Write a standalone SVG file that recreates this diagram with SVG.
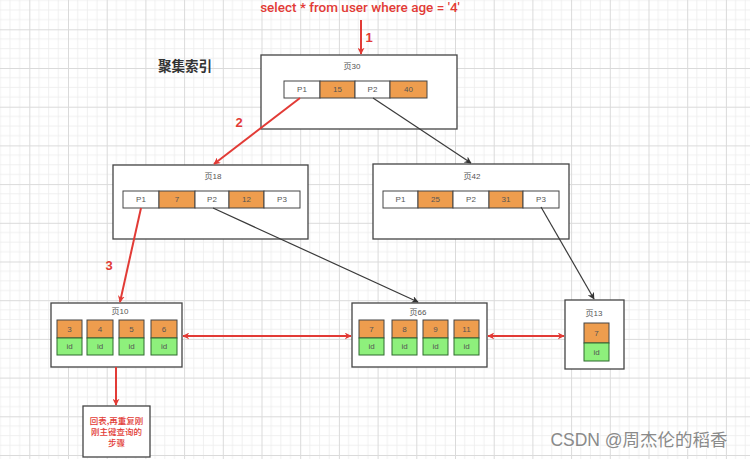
<svg xmlns="http://www.w3.org/2000/svg" width="750" height="459" viewBox="0 0 750 459">
  <defs>
    <pattern id="grid" patternUnits="userSpaceOnUse" x="29.3" y="29.3" width="38.7" height="38.7">
      <path d="M9.675 0V38.7M19.35 0V38.7M29.025 0V38.7M0 9.675H38.7M0 19.35H38.7M0 29.025H38.7" stroke="#ececec" stroke-width="0.8" fill="none"/>
      <path d="M0.5 0V38.7M0 0.5H38.7" stroke="#dadada" stroke-width="1" fill="none"/>
    </pattern>
    <marker id="arrRed" viewBox="0 0 10 10" refX="9" refY="5" markerWidth="7" markerHeight="7" orient="auto-start-reverse" markerUnits="userSpaceOnUse">
      <path d="M0 0L10 5L0 10L3 5Z" fill="#e23b36"/>
    </marker>
    <marker id="arrDark" viewBox="0 0 10 10" refX="9" refY="5" markerWidth="7" markerHeight="7" orient="auto" markerUnits="userSpaceOnUse">
      <path d="M0 0L10 5L0 10L3 5Z" fill="#333"/>
    </marker>
  </defs>
  <style>
    .page { fill: #fff; stroke: #444; stroke-width: 1.3; }
    .cell { fill: #fff; stroke: #444; stroke-width: 1; }
    .key { fill: #ee9d4e; stroke: #444; stroke-width: 1; }
    .idc { fill: #8ef07c; stroke: #2f6b2f; stroke-width: 1; }
    .t { font-family: "Liberation Sans", "Noto Sans CJK SC", sans-serif; font-size: 8px; fill: #555; text-anchor: middle; dominant-baseline: central; }
    .red { stroke: #e23b36; stroke-width: 2; fill: none; }
    .dark { stroke: #3a3a3a; stroke-width: 1.2; fill: none; }
    .num { font-family: "Liberation Sans", sans-serif; font-size: 13px; font-weight: bold; fill: #e23b36; text-anchor: middle; }
  </style>

  <rect width="750" height="459" fill="#fff"/>
  <rect width="750" height="459" fill="url(#grid)"/>

  <text x="360" y="12" font-family="Roboto, Liberation Sans, sans-serif" font-size="13.5" font-weight="500" fill="#e23b36" text-anchor="middle">select * from user where age = '4'</text>
  <text x="185" y="71" font-family="Noto Sans CJK SC, sans-serif" font-size="13.5" font-weight="bold" fill="#333" text-anchor="middle">聚集索引</text>

  <g id="page30">
    <rect class="page" x="261" y="55" width="196" height="74"/>
    <text class="t" x="352" y="66">页30</text>
    <rect class="cell" x="284" y="81" width="36" height="17"/><text class="t" x="302" y="89.5">P1</text>
    <rect class="key" x="320" y="81" width="35" height="17"/><text class="t" x="337.5" y="89.5">15</text>
    <rect class="cell" x="355" y="81" width="35" height="17"/><text class="t" x="372.5" y="89.5">P2</text>
    <rect class="key" x="390" y="81" width="37" height="17"/><text class="t" x="408.5" y="89.5">40</text>
  </g>

  <g id="page18">
    <rect class="page" x="113" y="165" width="195" height="74"/>
    <text class="t" x="213" y="176">页18</text>
    <rect class="cell" x="123" y="191" width="36" height="17"/><text class="t" x="141" y="199.5">P1</text>
    <rect class="key" x="159" y="191" width="36" height="17"/><text class="t" x="177" y="199.5">7</text>
    <rect class="cell" x="195" y="191" width="34" height="17"/><text class="t" x="212" y="199.5">P2</text>
    <rect class="key" x="229" y="191" width="35" height="17"/><text class="t" x="246.5" y="199.5">12</text>
    <rect class="cell" x="264" y="191" width="36" height="17"/><text class="t" x="282" y="199.5">P3</text>
  </g>

  <g id="page42">
    <rect class="page" x="373" y="164" width="196" height="75"/>
    <text class="t" x="472" y="176">页42</text>
    <rect class="cell" x="383" y="191" width="35" height="17"/><text class="t" x="400.5" y="199.5">P1</text>
    <rect class="key" x="418" y="191" width="35" height="17"/><text class="t" x="435.5" y="199.5">25</text>
    <rect class="cell" x="453" y="191" width="36" height="17"/><text class="t" x="471" y="199.5">P2</text>
    <rect class="key" x="489" y="191" width="34" height="17"/><text class="t" x="506" y="199.5">31</text>
    <rect class="cell" x="523" y="191" width="36" height="17"/><text class="t" x="541" y="199.5">P3</text>
  </g>

  <g id="page10">
    <rect class="page" x="51" y="303" width="131" height="64"/>
    <text class="t" x="120" y="311">页10</text>
    <rect class="key" x="57" y="320" width="25" height="18"/><text class="t" x="69.5" y="329">3</text>
    <rect class="idc" x="57" y="338" width="25" height="17"/><text class="t" x="69.5" y="346.5">id</text>
    <rect class="key" x="87" y="320" width="26" height="18"/><text class="t" x="100" y="329">4</text>
    <rect class="idc" x="87" y="338" width="26" height="17"/><text class="t" x="100" y="346.5">id</text>
    <rect class="key" x="119" y="320" width="25" height="18"/><text class="t" x="131.5" y="329">5</text>
    <rect class="idc" x="119" y="338" width="25" height="17"/><text class="t" x="131.5" y="346.5">id</text>
    <rect class="key" x="151" y="320" width="26" height="18"/><text class="t" x="164" y="329">6</text>
    <rect class="idc" x="151" y="338" width="26" height="17"/><text class="t" x="164" y="346.5">id</text>
  </g>

  <g id="page66">
    <rect class="page" x="352" y="303" width="135" height="64"/>
    <text class="t" x="418" y="312">页66</text>
    <rect class="key" x="359" y="320" width="25" height="18"/><text class="t" x="371.5" y="329">7</text>
    <rect class="idc" x="359" y="338" width="25" height="17"/><text class="t" x="371.5" y="346.5">id</text>
    <rect class="key" x="392" y="320" width="25" height="18"/><text class="t" x="404.5" y="329">8</text>
    <rect class="idc" x="392" y="338" width="25" height="17"/><text class="t" x="404.5" y="346.5">id</text>
    <rect class="key" x="423" y="320" width="25" height="18"/><text class="t" x="435.5" y="329">9</text>
    <rect class="idc" x="423" y="338" width="25" height="17"/><text class="t" x="435.5" y="346.5">id</text>
    <rect class="key" x="454" y="320" width="25" height="18"/><text class="t" x="466.5" y="329">11</text>
    <rect class="idc" x="454" y="338" width="25" height="17"/><text class="t" x="466.5" y="346.5">id</text>
  </g>

  <g id="page13">
    <rect class="page" x="565" y="300" width="59" height="69"/>
    <text class="t" x="594" y="313">页13</text>
    <rect class="key" x="584" y="323" width="25" height="20"/><text class="t" x="596.5" y="333">7</text>
    <rect class="idc" x="584" y="343" width="25" height="18"/><text class="t" x="596.5" y="352">id</text>
  </g>

  <g id="lookup-note">
    <rect class="page" x="83" y="406" width="67" height="51"/>
    <g font-family="Noto Sans CJK SC, sans-serif" font-size="8.5" font-weight="500" fill="#e23b36" text-anchor="middle">
      <text x="116.5" y="424">回表,再重复刚</text>
      <text x="116.5" y="435">刚主键查询的</text>
      <text x="116.5" y="446">步骤</text>
    </g>
  </g>

  <g id="connectors">
    <line class="red" x1="361" y1="20" x2="361" y2="54" marker-end="url(#arrRed)"/>
    <line class="red" x1="300" y1="98" x2="214" y2="164" marker-end="url(#arrRed)"/>
    <line class="dark" x1="373" y1="98" x2="471" y2="163" marker-end="url(#arrDark)"/>
    <line class="red" x1="141" y1="208" x2="120" y2="302" marker-end="url(#arrRed)"/>
    <line class="dark" x1="213" y1="208" x2="418" y2="302" marker-end="url(#arrDark)"/>
    <line class="dark" x1="541" y1="207" x2="594" y2="299" marker-end="url(#arrDark)"/>
    <line class="red" x1="183" y1="336" x2="351" y2="336" stroke-width="1.5" marker-start="url(#arrRed)" marker-end="url(#arrRed)"/>
    <line class="red" x1="488" y1="336" x2="564" y2="336" stroke-width="1.5" marker-start="url(#arrRed)" marker-end="url(#arrRed)"/>
    <line class="red" x1="116" y1="367" x2="116" y2="405" marker-end="url(#arrRed)"/>
    <text class="num" x="369" y="42">1</text>
    <text class="num" x="239" y="127">2</text>
    <text class="num" x="109" y="270">3</text>
  </g>

  <text x="639" y="446" font-family="Liberation Sans, Noto Sans CJK SC, sans-serif" font-size="17.5" fill="#fff" text-anchor="middle" opacity="0.9" transform="translate(1,1)">CSDN @周杰伦的稻香</text>
  <text x="639" y="446" font-family="Liberation Sans, Noto Sans CJK SC, sans-serif" font-size="17.5" fill="#8a8a8a" text-anchor="middle">CSDN @周杰伦的稻香</text>
</svg>
